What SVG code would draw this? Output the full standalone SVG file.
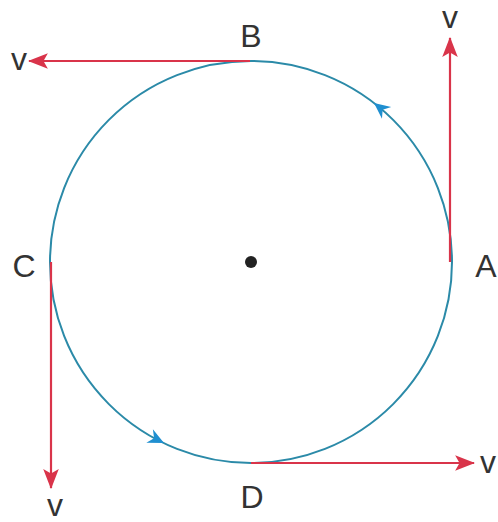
<svg xmlns="http://www.w3.org/2000/svg" width="498" height="522" viewBox="0 0 498 522">
<defs>
<style>
.lbl{font-family:"Liberation Sans",Arial,sans-serif;font-size:32px;fill:#333;text-anchor:middle}
.vec{stroke:#d9344a;stroke-width:2.2;fill:none}
.dir{fill:#1f8fd0}
</style>
<marker id="ah" markerUnits="userSpaceOnUse" markerWidth="20" markerHeight="16" viewBox="0 0 18 14" refX="17" refY="7" orient="auto">
<path d="M0,0 L18,7 L0,14 L4,7 z" fill="#d9344a"/>
</marker>
</defs>
<rect width="498" height="522" fill="#fff"/>
<g id="circle">
<circle cx="251" cy="262" r="201" fill="none" stroke="#2b8aa8" stroke-width="2"/>
<circle cx="251" cy="262" r="6" fill="#222"/>
<path class="dir" d="M0,0 L-16,-7.5 L-11,0 L-16,7.5 z" transform="translate(374,103) rotate(-141.9)"/>
<path class="dir" d="M0,0 L-16,-7.5 L-11,0 L-16,7.5 z" transform="translate(164,443) rotate(25.9)"/>
</g>
<g id="connectors">
<line class="vec" x1="250" y1="61" x2="29" y2="61" marker-end="url(#ah)"/>
<line class="vec" x1="450" y1="262" x2="450" y2="38" marker-end="url(#ah)"/>
<line class="vec" x1="51" y1="262" x2="51" y2="488" marker-end="url(#ah)"/>
<line class="vec" x1="251" y1="463" x2="474" y2="463" marker-end="url(#ah)"/>
</g>
<g id="A"><text class="lbl" x="486" y="277">A</text><text class="lbl" x="450" y="28">v</text></g>
<g id="B"><text class="lbl" x="251" y="47">B</text><text class="lbl" x="19" y="70">v</text></g>
<g id="C"><text class="lbl" x="24" y="277">C</text><text class="lbl" x="55" y="516">v</text></g>
<g id="D"><text class="lbl" x="252" y="508">D</text><text class="lbl" x="488" y="473">v</text></g>
</svg>
